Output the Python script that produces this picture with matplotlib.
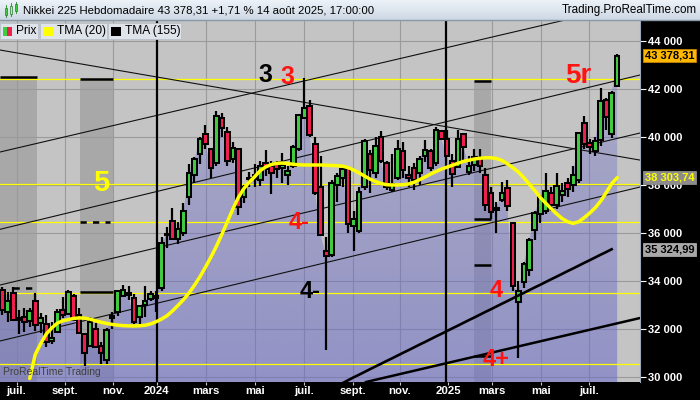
import matplotlib
matplotlib.use("Agg")
import matplotlib.pyplot as plt
import numpy as np
from matplotlib.patches import Rectangle, Polygon

plt.rcParams['font.family'] = ['Liberation Sans', 'DejaVu Sans']

# weekly candles, week 0 = week of 1 Jan 2024
first_week = -28
opens = [33650, 32700, 33520, 32450, 32500, 32350, 33170, 32250, 32200, 31500,
         31900, 32800, 32650, 33400, 32600, 31800, 31300, 32000, 31300, 30700,
         32450, 32700, 33400, 33500, 33300, 32500, 33000, 33250, 33290, 33700,
         35900, 36500, 35750, 36000, 37480, 38400, 39300, 40100, 39500, 38900,
         40800, 40200, 39100, 39500, 37500, 38300, 38400, 38200, 38900, 38800,
         38900, 38700, 38400, 38800, 39500, 40800, 41300, 39700, 37900, 35250,
         35100, 38000, 38300, 38700, 36300, 36100, 37900, 39300, 38500, 40000,
         38900, 37800, 38300, 39400, 38400, 38700, 38500, 39200, 39400, 38900,
         40250, 39900, 39000, 38760, 40100, 38520, 38830, 39120, 38420, 37650,
         36960, 37380, 37870, 36400, 33130, 33980, 34450, 36120, 36800, 36900,
         37650, 37170, 37600, 38070, 38000, 38200, 40565, 39740, 39400, 39870,
         41535, 40100, 42100]
highs = [33770, 33530, 33760, 32780, 32900, 32890, 33490, 32690, 32600, 32300,
         32845, 33320, 33630, 33450, 32900, 31850, 32500, 32250, 31470, 32060,
         32700, 33630, 33850, 33810, 33450, 33020, 33800, 33600, 33570, 35840,
         36240, 37040, 36440, 37240, 38860, 39160, 39990, 40490, 39500, 41090,
         41000, 40400, 39800, 39500, 38000, 38550, 38860, 39000, 39440, 39000,
         39000, 39340, 38800, 39650, 40950, 42430, 41550, 40000, 39190, 35850,
         38200, 38500, 38700, 38700, 36900, 37900, 39900, 39450, 39980, 40260,
         39000, 39300, 39880, 39800, 38800, 38900, 39200, 39850, 39500, 40400,
         40300, 40300, 39300, 40280, 40100, 39200, 39500, 39500, 38700, 37900,
         37300, 38135, 38200, 36400, 34000, 34800, 35800, 36900, 37600, 38500,
         37900, 38500, 38100, 38300, 38800, 40200, 40870, 39900, 40000, 42050,
         41600, 41900, 43450]
lows = [32575, 32300, 32350, 31790, 31900, 32080, 31930, 31830, 31280, 31400,
        31880, 32450, 32600, 32340, 31800, 30490, 31270, 31200, 30550, 30540,
        32000, 32560, 33330, 33220, 32200, 32200, 32500, 33160, 32700, 33600,
        35370, 35700, 35560, 35860, 37170, 38100, 38880, 39500, 38290, 38800,
        40000, 38770, 38930, 36730, 37240, 37930, 37900, 37960, 38360, 37620,
        38300, 38070, 38000, 38700, 39400, 40750, 40000, 37600, 35880, 31156,
        35000, 37300, 37900, 36000, 35250, 36000, 37800, 37650, 38300, 38900,
        37800, 37700, 38200, 38300, 37900, 37800, 38000, 38950, 38600, 38800,
        39850, 39190, 37900, 38700, 39000, 38400, 38600, 38500, 36900, 36600,
        35990, 37300, 36900, 33600, 30790, 33700, 34200, 35700, 36400, 36800,
        36900, 37000, 37300, 37500, 37700, 38100, 39500, 39300, 39200, 39600,
        40300, 39950, 42100]
closes = [32781, 33189, 32388, 32391, 32304, 32759, 32192, 32473, 31450, 31624,
          32710, 32606, 33533, 32402, 31857, 30994, 32315, 31259, 30991, 31949,
          32568, 33585, 33625, 33431, 32307, 32970, 33169, 33464, 33377, 35577,
          35963, 35751, 36158, 36897, 38487, 39098, 39910, 39688, 38707, 40888,
          40369, 38992, 39523, 37068, 37934, 38236, 38229, 38787, 38646, 38487,
          38683, 38814, 38596, 39583, 40912, 41190, 40063, 37667, 35909, 35025,
          38062, 38364, 38647, 36391, 36581, 37723, 39829, 38635, 39605, 38981,
          37913, 38053, 39500, 38642, 38283, 38208, 39091, 39470, 38701, 40281,
          39894, 39190, 38451, 39931, 39572, 38787, 39149, 38776, 37155, 36887,
          37053, 37677, 37120, 33780, 33585, 34730, 35705, 36830, 37503, 37753,
          37160, 37965, 37741, 37834, 38403, 40150, 39700, 39570, 39819, 41500,
          40838, 41820, 43378]

tma20_start = -23
tma20 = [29950, 30950, 31400, 31800, 32050, 32250, 32350, 32400, 32450, 32470,
         32460, 32420, 32350, 32290, 32240, 32200, 32170, 32150, 32140, 32135,
         32145, 32165, 32220, 32310, 32420, 32560, 32760, 32990, 33230, 33500,
         33830, 34180, 34580, 35000, 35450, 35950, 36470, 37000, 37480, 37850,
         38120, 38350, 38600, 38750, 38850, 38900, 38910, 38890, 38860, 38840,
         38830, 38830, 38830, 38830, 38820, 38810, 38800, 38780, 38720, 38620,
         38500, 38370, 38240, 38140, 38060, 38010, 38000, 38000, 38010, 38040,
         38110, 38220, 38330, 38450, 38560, 38660, 38740, 38820, 38900, 38980,
         39030, 39080, 39110, 39130, 39130, 39100, 39020, 38880, 38720, 38540,
         38300, 38030, 37760, 37480, 37240, 37010, 36790, 36600, 36470, 36400,
         36470, 36640, 36830, 37050, 37330, 37680, 38050, 38304]

tma155_start = 34
tma155 = [29760, 29880, 30000, 30110, 30225, 30340, 30455, 30565, 30680,
          30790, 30905, 31020, 31130, 31245, 31360, 31470, 31585, 31700, 31810,
          31925, 32040, 32150, 32265, 32380, 32490, 32605, 32720, 32830, 32945,
          33060, 33170, 33285, 33400, 33510, 33625, 33740, 33850, 33965, 34080,
          34190, 34305, 34420, 34530, 34645, 34760, 34870, 34985, 35100, 35210,
          35325]

# horizontal support / resistance levels
levels = [42400, 38050, 36450, 33500, 30550]

# trend lines: (week start, value start, week end, value end)
thin_lines = [(-28.42, 43612, 88.16, 39035),
              (-28.42, 39370, 88.16, 45588),
              (-28.42, 36155, 88.16, 42573),
              (-28.42, 33839, 88.16, 40160),
              (-28.42, 31510, 88.16, 37914)]
thick_line = (38.25, 29805, 88.16, 32466)

# time zones
zone_start = [-28.42, -13.84, 57.9]
zone_end = [-21.68, -7.83, 61.0]
zone_top = [42486, 42407, 42323]
solid_marks = [(-13.84, -7.83, 33535), (57.9, 61.0, 36584),
               (57.9, 61.0, 34670), (57.9, 61.0, 30886)]
dashed_marks = [(-26.0, -21.68, 33701), (-13.84, -8.4, 36447)]

# wave labels
wave_text = ["5", "3", "3", "4-", "4-", "4", "4+", "5r"]
wave_week = [-9.9, 20.0, 24.0, 26.0, 28.1, 61.9, 61.9, 76.9]
wave_value = [38070, 42573, 42490, 36459, 33560, 33630, 30720, 42531]
wave_color = ["#ffff00", "black", "#ff1414", "#ff1414", "black", "#ff1414", "#ff1414", "#ff1414"]
wave_size = [21, 18, 18, 17, 17, 17, 17, 20]

month_pos = [-25.4, -16.6, -7.8, 0.1, 9.1, 18.0, 26.9, 35.8, 44.4, 53.2, 61.2, 70.2, 78.9]
month_labels = ["juil.", "sept.", "nov.", "2024", "mars", "mai", "juil.", "sept.",
                "nov.", "2025", "mars", "mai", "juil."]
year_lines = [0.18, 52.8]
price_ticks = [30000, 32000, 34000, 36000, 38000, 40000, 42000, 44000]

last_price = 43378.31
last_tma20 = 38303.74
last_tma155 = 35324.99

weeks = np.arange(first_week, first_week + len(closes))
o = np.array(opens)
h = np.array(highs)
l = np.array(lows)
c = np.array(closes)

fig = plt.figure(figsize=(7, 4), dpi=100, facecolor='black')
ax = fig.add_axes([0, 18 / 400, 640 / 700, 362 / 400])
ax.set_facecolor('#c4c4c4')
x0, x1 = -28.42, 88.16
y0, y1 = 29805, 44860

# time zone bands
for a, b, top in zip(zone_start, zone_end, zone_top):
    ax.add_patch(Rectangle((a, y0), b - a, top - y0, facecolor='#a8a8a8',
                           edgecolor='none', zorder=0.5))
    ax.plot([a, b], [top, top], color='black', lw=1.8, zorder=3.5, solid_capstyle='butt')
for a, b, v in solid_marks:
    ax.plot([a, b], [v, v], color='black', lw=1.8, zorder=3.5, solid_capstyle='butt')
for a, b, v in dashed_marks:
    ax.plot([a, b], [v, v], color='black', lw=1.8, zorder=3.5, dashes=(2.5, 2.5))

# grid
for p in price_ticks:
    ax.axhline(p, color='#9a9a9a', lw=0.8, zorder=1)
for p, lab in zip(month_pos, month_labels):
    if not lab.isdigit():
        ax.axvline(p, color='#9a9a9a', lw=0.8, zorder=1)

# area under closes, gradient
px = np.r_[x0, x0, weeks, weeks[-1]]
py = np.r_[y0, c[0], c, y0]
poly = Polygon(np.column_stack([px, py]), closed=True, facecolor='none', edgecolor='none')
ax.add_patch(poly)
t = np.linspace(0, 1, 256)[:, None]
grad = np.zeros((256, 1, 4))
grad[..., 0] = 105 / 255
grad[..., 1] = 105 / 255
grad[..., 2] = 200 / 255
grad[..., 3] = 0.55 - 0.3 * t
im = ax.imshow(grad, extent=[x0, weeks[-1], y0, y1], origin='lower', aspect='auto',
               zorder=2, interpolation='bilinear')
im.set_clip_path(poly)

# horizontal levels
for v in levels:
    ax.axhline(v, color='#ffff00', lw=0.9, zorder=3)

# trend lines
for a, va, b, vb in thin_lines:
    ax.plot([a, b], [va, vb], color='#101010', lw=0.8, zorder=3)
ax.plot([thick_line[0], thick_line[2]], [thick_line[1], thick_line[3]],
        color='black', lw=1.8, zorder=3)

for p in year_lines:
    ax.axvline(p, color='black', lw=1.6, zorder=3.2)

# candles
ax.vlines(weeks, l, h, color='black', lw=1.6, zorder=4)
up = c >= o
body = np.maximum(np.abs(c - o), 70)
ax.bar(weeks, body, bottom=np.minimum(o, c), width=0.85,
       color=np.where(up, '#40cc40', '#ee2050'), edgecolor='black', linewidth=1.45, zorder=5)

# moving averages
ax.plot(np.arange(tma20_start, tma20_start + len(tma20)), tma20, color='#ffff00', lw=2.5,
        zorder=6, solid_capstyle='round')
ax.plot(np.arange(tma155_start, tma155_start + len(tma155)), tma155, color='black', lw=1.9,
        zorder=6)

for s, wx, wy, col, fs in zip(wave_text, wave_week, wave_value, wave_color, wave_size):
    ax.text(wx, wy, s, color=col, fontsize=fs, fontweight='bold', ha='center', va='center',
            zorder=7)

ax.text(0.004, 0.015, "ProRealTime Trading", transform=ax.transAxes, fontsize=7.5,
        color='#404040', va='bottom', zorder=7)

ax.set_xlim(x0, x1)
ax.set_ylim(y0, y1)
for sp in ['top', 'left', 'bottom']:
    ax.spines[sp].set_visible(False)
ax.spines['right'].set_color('#9aa8b8')

ax.yaxis.tick_right()
ax.set_yticks(price_ticks)
ax.set_yticklabels([f"{p:,}".replace(",", " ") for p in price_ticks])
ax.tick_params(axis='y', colors='white', length=4, width=0.8, pad=2, labelsize=8)
ax.set_xticks(month_pos)
ax.set_xticklabels(month_labels)
ax.tick_params(axis='x', colors='#c8c8c8', labelcolor='white', length=2, width=0.8,
               pad=1, labelsize=8.2)
for lab in ax.get_yticklabels() + ax.get_xticklabels():
    lab.set_fontweight('bold')

yax = ax.get_yaxis_transform()
ax.text(1.008, last_price, "43 378,31", transform=yax, fontsize=8, fontweight='bold',
        color='black', va='center', ha='left', zorder=8,
        bbox=dict(boxstyle='square,pad=0.15', facecolor='#ffb800', edgecolor='#c08000', lw=0.6))
ax.text(1.008, last_tma20, "38 303,74", transform=yax, fontsize=8, fontweight='bold',
        color='#ffff00', va='center', ha='left', zorder=8,
        bbox=dict(boxstyle='square,pad=0.15', facecolor='#8c8c8c', edgecolor='#8c8c8c', lw=0.6))
ax.text(1.008, last_tma155, "35 324,99", transform=yax, fontsize=8, fontweight='bold',
        color='black', va='center', ha='left', zorder=8,
        bbox=dict(boxstyle='square,pad=0.15', facecolor='#a8a8a8', edgecolor='#a8a8a8', lw=0.6))

# header and legend (pixel space overlay)
ov = fig.add_axes([0, 0, 1, 1], zorder=10)
ov.set_xlim(0, 700)
ov.set_ylim(400, 0)
ov.axis('off')
hg = np.linspace(0, 1, 20)[:, None]
head = np.zeros((20, 1, 3))
head[..., 0] = (236 - 30 * hg) / 255
head[..., 1] = (242 - 26 * hg) / 255
head[..., 2] = (248 - 20 * hg) / 255
ov.imshow(head, extent=[0, 700, 20, 0], aspect='auto', origin='upper', zorder=1)
ov.plot([0, 700], [20, 20], color='#8898a8', lw=1, zorder=2)
ov.set_xlim(0, 700)
ov.set_ylim(400, 0)

ov.add_patch(Rectangle((5, 8), 2.2, 7, facecolor='#40cc40', edgecolor='#208020', lw=0.5, zorder=3))
ov.plot([6.1, 6.1], [5, 17], color='#208020', lw=0.6, zorder=2.5)
ov.add_patch(Rectangle((10, 6), 2.2, 8, facecolor='#d8d8d8', edgecolor='#208020', lw=0.5, zorder=3))
ov.plot([11.1, 11.1], [3, 16], color='#208020', lw=0.6, zorder=2.5)
ov.add_patch(Rectangle((15, 4), 2.2, 7, facecolor='#40cc40', edgecolor='#208020', lw=0.5, zorder=3))
ov.plot([16.1, 16.1], [2, 13], color='#208020', lw=0.6, zorder=2.5)

ov.text(23, 10.5, "Nikkei 225 Hebdomadaire 43 378,31 +1,71 % 14 août 2025, 17:00:00",
        fontsize=8.2, va='center', ha='left', color='black', zorder=3)
ov.text(697, 10.5, "Trading.ProRealTime.com", fontsize=8.4, va='center', ha='right',
        color='black', zorder=3)

legend_boxes = [(0, 38), (40, 106.7), (108.3, 181)]
for a, b in legend_boxes:
    ov.add_patch(Rectangle((a, 22.7), b - a, 16.6, facecolor='#dfe4ea', edgecolor='#b8c0c8',
                           lw=0.6, zorder=3))
ov.add_patch(Rectangle((2.7, 26.7), 4.6, 9.3, facecolor='#40cc40', edgecolor='none', zorder=4))
ov.add_patch(Rectangle((7.3, 26.7), 5, 9.3, facecolor='#ee2050', edgecolor='none', zorder=4))
ov.add_patch(Rectangle((43.3, 26.7), 10, 9.3, facecolor='#ffff00', edgecolor='none', zorder=4))
ov.add_patch(Rectangle((110.7, 26.7), 10, 9.3, facecolor='black', edgecolor='none', zorder=4))
ov.text(16, 31, "Prix", fontsize=8.6, va='center', ha='left', zorder=5)
ov.text(57.3, 31, "TMA (20)", fontsize=8.6, va='center', ha='left', zorder=5)
ov.text(125, 31, "TMA (155)", fontsize=8.6, va='center', ha='left', zorder=5)

fig.savefig("out.png", dpi=100, facecolor='black')
